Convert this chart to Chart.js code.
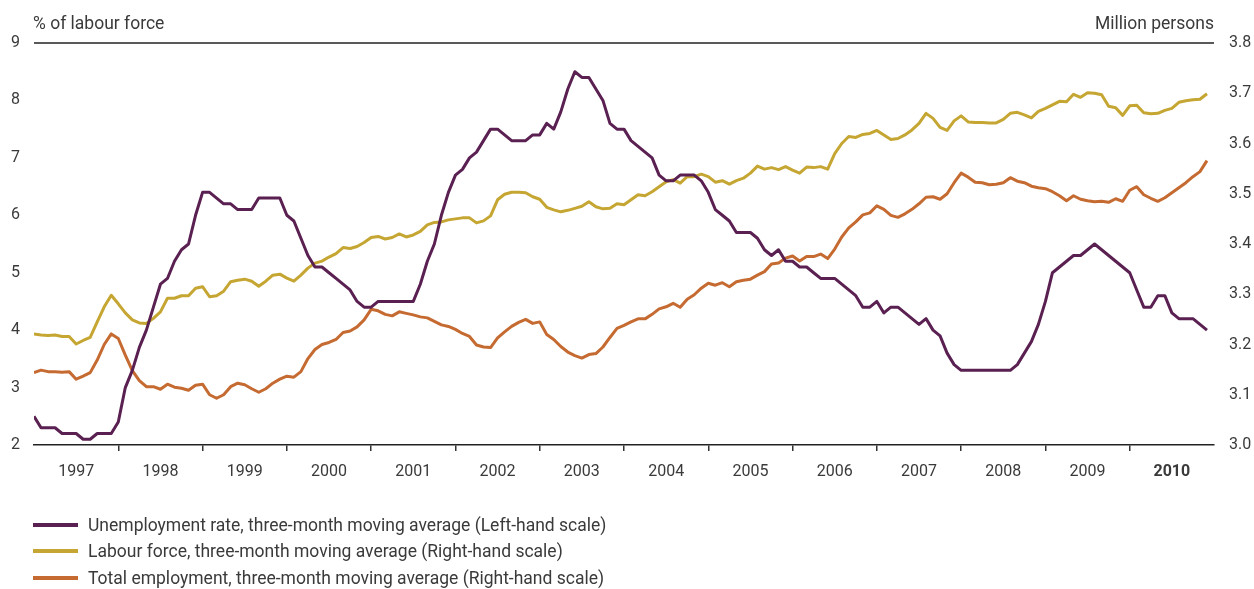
<!DOCTYPE html>
<html>
<head>
<meta charset="utf-8">
<script src="https://cdn.jsdelivr.net/npm/chart.js@4"></script>
<style>
  body { margin: 0; background: #fff; font-family: Roboto, sans-serif; }
  #wrap { position: relative; width: 1254px; height: 495px; }
  #legend { position: absolute; left: 0; top: 0; width: 1254px; height: 589px; pointer-events: none; }
  .row { position: absolute; left: 33px; height: 20px; display: flex; align-items: center; font-size: 17.5px; color: #3a3a3a; white-space: nowrap; }
  .row span.line { display: inline-block; width: 45px; height: 4px; margin-right: 10px; }
</style>
</head>
<body>
<div id="wrap"><canvas id="myChart" width="1254" height="495"></canvas></div>
<div id="legend"></div>
<script>
// monthly, Jan 1997 - Dec 2010
const years = ["1997", "1998", "1999", "2000", "2001", "2002", "2003", "2004", "2005", "2006", "2007", "2008", "2009", "2010"];

// % of labour force (left scale)
const unemployment = [
  2.5, 2.3, 2.3, 2.3, 2.2, 2.2, 2.2, 2.1, 2.1, 2.2, 2.2, 2.2,
  2.4, 3.0, 3.3, 3.7, 4.0, 4.4, 4.8, 4.9, 5.2, 5.4, 5.5, 6.0,
  6.4, 6.4, 6.3, 6.2, 6.2, 6.1, 6.1, 6.1, 6.3, 6.3, 6.3, 6.3,
  6.0, 5.9, 5.6, 5.3, 5.1, 5.1, 5.0, 4.9, 4.8, 4.7, 4.5, 4.4,
  4.4, 4.5, 4.5, 4.5, 4.5, 4.5, 4.5, 4.8, 5.2, 5.5, 6.0, 6.4,
  6.7, 6.8, 7.0, 7.1, 7.3, 7.5, 7.5, 7.4, 7.3, 7.3, 7.3, 7.4,
  7.4, 7.6, 7.5, 7.8, 8.2, 8.5, 8.4, 8.4, 8.2, 8.0, 7.6, 7.5,
  7.5, 7.3, 7.2, 7.1, 7.0, 6.7, 6.6, 6.6, 6.7, 6.7, 6.7, 6.6,
  6.4, 6.1, 6.0, 5.9, 5.7, 5.7, 5.7, 5.6, 5.4, 5.3, 5.4, 5.2,
  5.2, 5.1, 5.1, 5.0, 4.9, 4.9, 4.9, 4.8, 4.7, 4.6, 4.4, 4.4,
  4.5, 4.3, 4.4, 4.4, 4.3, 4.2, 4.1, 4.2, 4.0, 3.9, 3.6, 3.4,
  3.3, 3.3, 3.3, 3.3, 3.3, 3.3, 3.3, 3.3, 3.4, 3.6, 3.8, 4.1,
  4.5, 5.0, 5.1, 5.2, 5.3, 5.3, 5.4, 5.5, 5.4, 5.3, 5.2, 5.1,
  5.0, 4.7, 4.4, 4.4, 4.6, 4.6, 4.3, 4.2, 4.2, 4.2, 4.1, 4.0
];

// million persons (right scale)
const labourForce = [
  3.221, 3.219, 3.218, 3.219, 3.216, 3.216, 3.201, 3.208, 3.214, 3.245, 3.275, 3.298,
  3.281, 3.263, 3.249, 3.243, 3.242, 3.252, 3.265, 3.292, 3.292, 3.297, 3.297, 3.312,
  3.315, 3.295, 3.297, 3.306, 3.325, 3.328, 3.330, 3.326, 3.316, 3.326, 3.338, 3.340,
  3.332, 3.326, 3.338, 3.352, 3.362, 3.366, 3.374, 3.381, 3.393, 3.391, 3.395, 3.403,
  3.413, 3.415, 3.410, 3.413, 3.420, 3.414, 3.418, 3.425, 3.438, 3.443, 3.444, 3.448,
  3.450, 3.452, 3.452, 3.442, 3.446, 3.456, 3.488, 3.499, 3.503, 3.503, 3.502, 3.494,
  3.489, 3.473, 3.468, 3.464, 3.467, 3.471, 3.475, 3.484, 3.474, 3.470, 3.471, 3.480,
  3.478, 3.488, 3.498, 3.496, 3.504, 3.514, 3.524, 3.528, 3.521, 3.534, 3.534, 3.539,
  3.534, 3.523, 3.526, 3.519, 3.526, 3.531, 3.541, 3.555, 3.549, 3.552, 3.548, 3.554,
  3.547, 3.541, 3.553, 3.552, 3.554, 3.549, 3.580, 3.600, 3.614, 3.612, 3.618, 3.620,
  3.626, 3.617, 3.608, 3.610, 3.617, 3.627, 3.640, 3.660, 3.650, 3.632, 3.626, 3.645,
  3.655, 3.643, 3.642, 3.642, 3.641, 3.641, 3.648, 3.660, 3.662, 3.657, 3.651, 3.664,
  3.670, 3.677, 3.684, 3.683, 3.698, 3.692, 3.701, 3.700, 3.697, 3.674, 3.671, 3.656,
  3.675, 3.676, 3.661, 3.659, 3.660, 3.666, 3.670, 3.682, 3.685, 3.687, 3.688, 3.699
];

const employment = [
  3.144, 3.149, 3.146, 3.146, 3.145, 3.146, 3.131, 3.137, 3.144, 3.169, 3.200, 3.221,
  3.212, 3.179, 3.148, 3.128, 3.116, 3.116, 3.111, 3.121, 3.115, 3.113, 3.109, 3.119,
  3.121, 3.100, 3.093, 3.100, 3.116, 3.123, 3.120, 3.112, 3.105, 3.112, 3.123, 3.131,
  3.137, 3.135, 3.146, 3.172, 3.190, 3.200, 3.204, 3.210, 3.224, 3.227, 3.235, 3.249,
  3.270, 3.267, 3.260, 3.257, 3.265, 3.262, 3.259, 3.255, 3.253, 3.246, 3.239, 3.236,
  3.230, 3.222, 3.216, 3.199, 3.195, 3.194, 3.213, 3.225, 3.236, 3.244, 3.250, 3.242,
  3.245, 3.220, 3.210, 3.196, 3.185, 3.178, 3.173, 3.180, 3.182, 3.195, 3.214, 3.232,
  3.238, 3.245, 3.251, 3.251, 3.260, 3.271, 3.275, 3.282, 3.274, 3.290, 3.299, 3.312,
  3.322, 3.318, 3.323, 3.315, 3.325, 3.328, 3.330, 3.338, 3.345, 3.360, 3.362, 3.372,
  3.376, 3.366, 3.375, 3.375, 3.380, 3.371, 3.390, 3.414, 3.432, 3.444, 3.458, 3.462,
  3.476, 3.469, 3.457, 3.453, 3.460, 3.469, 3.480, 3.493, 3.494, 3.489, 3.500, 3.522,
  3.541, 3.533, 3.523, 3.522, 3.518, 3.519, 3.522, 3.532, 3.525, 3.522, 3.515, 3.512,
  3.510, 3.504, 3.496, 3.486, 3.496, 3.489, 3.486, 3.484, 3.485, 3.483, 3.490, 3.485,
  3.507, 3.514, 3.498, 3.491, 3.485, 3.492, 3.502, 3.512, 3.522, 3.534, 3.544, 3.566
];

const leftTicks = [2, 3, 4, 5, 6, 7, 8, 9];
const rightTicks = [3.0, 3.1, 3.2, 3.3, 3.4, 3.5, 3.6, 3.7, 3.8];

const seriesNames = [
  "Unemployment rate, three-month moving average (Left-hand scale)",
  "Labour force, three-month moving average (Right-hand scale)",
  "Total employment, three-month moving average (Right-hand scale)"
];
const colors = ["#5a2051", "#c6a633", "#c56a30"];

function toPoints(arr) {
  return arr.map((v, i) => ({ x: i, y: v }));
}

const textColor = "#3a3a3a";
const font16 = { family: "Roboto, sans-serif", size: 16 };

// axis titles and the top rule
const extras = {
  id: "extras",
  afterDraw(chart) {
    const ctx = chart.ctx;
    const a = chart.chartArea;
    ctx.save();
    ctx.strokeStyle = "#222";
    ctx.lineWidth = 1.5;
    ctx.beginPath();
    ctx.moveTo(a.left, a.top);
    ctx.lineTo(a.right, a.top);
    ctx.stroke();
    ctx.fillStyle = textColor;
    ctx.font = "17.5px Roboto, sans-serif";
    ctx.textBaseline = "middle";
    ctx.textAlign = "left";
    ctx.fillText("% of labour force", 33, 25);
    ctx.textAlign = "right";
    ctx.fillText("Million persons", a.right, 25);
    ctx.restore();
  }
};

const ctx = document.getElementById("myChart");
new Chart(ctx, {
  type: "line",
  data: {
    datasets: [
      { label: seriesNames[0], data: toPoints(unemployment), yAxisID: "y", borderColor: colors[0] },
      { label: seriesNames[1], data: toPoints(labourForce), yAxisID: "y1", borderColor: colors[1] },
      { label: seriesNames[2], data: toPoints(employment), yAxisID: "y1", borderColor: colors[2] }
    ]
  },
  options: {
    responsive: false,
    animation: false,
    devicePixelRatio: 1,
    layout: { padding: { top: 43, left: 0, right: 0, bottom: 0 } },
    elements: {
      line: { borderWidth: 3, tension: 0, fill: false, borderJoinStyle: "round" },
      point: { radius: 0, hoverRadius: 0 }
    },
    plugins: { legend: { display: false }, tooltip: { enabled: false } },
    scales: {
      x: {
        type: "linear",
        min: 0,
        max: years.length * 12,
        afterBuildTicks: (scale) => {
          const t = [];
          for (let v = 6; v < years.length * 12; v += 6) t.push({ value: v });
          scale.ticks = t;
        },
        afterFit: (scale) => { scale.height = 50; },
        grid: {
          drawOnChartArea: false,
          drawTicks: true,
          tickLength: 6,
          lineWidth: 1.5,
          color: (c) => (c.tick && c.tick.value % 12 === 0 ? "#333" : "rgba(0,0,0,0)")
        },
        border: { display: true, color: "#222", width: 1.5 },
        ticks: {
          autoSkip: false,
          maxRotation: 0,
          padding: 11,
          color: textColor,
          font: (c) => (c.tick && c.tick.value === years.length * 12 - 6 ? { ...font16, weight: "bold" } : font16),
          callback: (v) => (v % 12 === 6 ? years[(v - 6) / 12] : "")
        }
      },
      y: {
        position: "left",
        min: leftTicks[0],
        max: leftTicks[leftTicks.length - 1],
        afterBuildTicks: (scale) => { scale.ticks = leftTicks.map((v) => ({ value: v })); },
        afterFit: (scale) => { scale.width = 34; },
        grid: { display: false, drawTicks: false },
        border: { display: false },
        ticks: { padding: 14, color: textColor, font: font16 }
      },
      y1: {
        position: "right",
        min: rightTicks[0],
        max: rightTicks[rightTicks.length - 1],
        afterBuildTicks: (scale) => { scale.ticks = rightTicks.map((v) => ({ value: v })); },
        afterFit: (scale) => { scale.width = 40; },
        grid: { display: false, drawTicks: false },
        border: { display: false },
        ticks: { padding: 15, color: textColor, font: font16, callback: (v) => Number(v).toFixed(1) }
      }
    }
  },
  plugins: [extras]
});

// legend as plain html rows
const legend = document.getElementById("legend");
const rowY = [525, 551, 578];
seriesNames.forEach((name, i) => {
  const row = document.createElement("div");
  row.className = "row";
  row.style.top = (rowY[i] - 10) + "px";
  const line = document.createElement("span");
  line.className = "line";
  line.style.background = colors[i];
  row.appendChild(line);
  row.appendChild(document.createTextNode(name));
  legend.appendChild(row);
});
</script>
</body>
</html>
